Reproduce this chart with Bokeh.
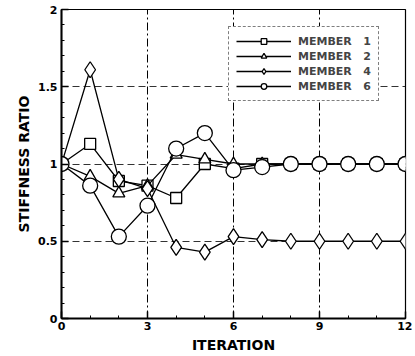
from bokeh.plotting import figure
from bokeh.models import Legend, LegendItem, FixedTicker, Range1d
from bokeh.embed import file_html
from bokeh.resources import INLINE

iteration = [0, 1, 2, 3, 4, 5, 6, 7, 8, 9, 10, 11, 12]
member1 = [1.0, 1.13, 0.89, 0.86, 0.78, 1.0, 0.97, 1.0, 1.0, 1.0, 1.0, 1.0, 1.0]
member2 = [1.0, 0.92, 0.81, 0.86, 1.06, 1.03, 1.0, 1.0, 1.0, 1.0, 1.0, 1.0, 1.0]
member4 = [1.0, 1.61, 0.90, 0.84, 0.46, 0.43, 0.53, 0.51, 0.50, 0.50, 0.50, 0.50, 0.50]
member6 = [1.0, 0.86, 0.53, 0.73, 1.10, 1.20, 0.96, 0.98, 1.0, 1.0, 1.0, 1.0, 1.0]
labels = ["MEMBER\u00a0\u00a0\u00a01", "MEMBER\u00a0\u00a0\u00a02", "MEMBER\u00a0\u00a0\u00a04", "MEMBER\u00a0\u00a0\u00a06"]
xticks = [0, 3, 6, 9, 12]
yticks = [0, 0.5, 1, 1.5, 2]

FONT = "DejaVu Sans"

p = figure(width=412, height=355, output_backend="svg", toolbar_location=None,
           x_range=Range1d(0, 12), y_range=Range1d(0, 2),
           min_border_left=61, min_border_right=7, min_border_top=9, min_border_bottom=34)

p.outline_line_color = "black"
p.outline_line_width = 1.2

series = [(member1, "square", 11), (member2, "triangle", 12), (member4, "diamond", 16), (member6, "circle", 15)]
items = []
for (ys, mk, sz), lab in zip(series, labels):
    ln = p.line(iteration, ys, line_color="black", line_width=1.3)
    sc = p.scatter(iteration, ys, marker=mk, size=sz, fill_color="white",
                   line_color="black", line_width=1.3)
    items.append(LegendItem(label=lab, renderers=[ln, sc]))

legend = Legend(items=items, location=(167, 217))
legend.border_line_color = "black"
legend.border_line_dash = "6 4"
legend.border_line_width = 1
legend.background_fill_alpha = 1
legend.label_text_font = FONT
legend.label_text_font_style = "bold"
legend.label_text_font_size = "11px"
legend.label_standoff = 7
legend.glyph_width = 55
legend.glyph_height = 14
legend.label_height = 14
legend.spacing = 1
legend.padding = 7
legend.margin = 0
p.add_layout(legend, "center")

for ax in (p.xaxis, p.yaxis):
    ax.axis_line_width = 2
    ax.axis_line_color = "black"
    ax.major_tick_in = 7
    ax.major_tick_out = 0
    ax.minor_tick_in = 3
    ax.minor_tick_out = 0
    ax.major_tick_line_width = 1.5
    ax.major_label_text_font = FONT
    ax.major_label_text_font_style = "bold"
    ax.major_label_text_font_size = "11px"
    ax.major_label_text_color = "black"
    ax.axis_label_text_font = FONT
    ax.axis_label_text_font_style = "bold"
    ax.axis_label_text_font_size = "14px"
    ax.axis_label_text_color = "black"

p.xaxis.ticker = FixedTicker(ticks=xticks, minor_ticks=list(range(0, 13)))
p.yaxis.ticker = FixedTicker(ticks=yticks, minor_ticks=[i / 10 for i in range(0, 21)])
p.xaxis.axis_label = "ITERATION"
p.yaxis.axis_label = "STIFFNESS RATIO"
p.xaxis.major_label_standoff = 3
p.xaxis.axis_label_standoff = 4
p.yaxis.major_label_standoff = 4
p.yaxis.axis_label_standoff = 3

p.xgrid.grid_line_color = "black"
p.xgrid.grid_line_dash = "8 3 2 3"
p.xgrid.grid_line_width = 1
p.ygrid.grid_line_color = "black"
p.ygrid.grid_line_dash = "7 4"
p.ygrid.grid_line_width = 1
p.ygrid.grid_line_alpha = 0.8

open("out.html", "w").write(file_html(p, INLINE))
